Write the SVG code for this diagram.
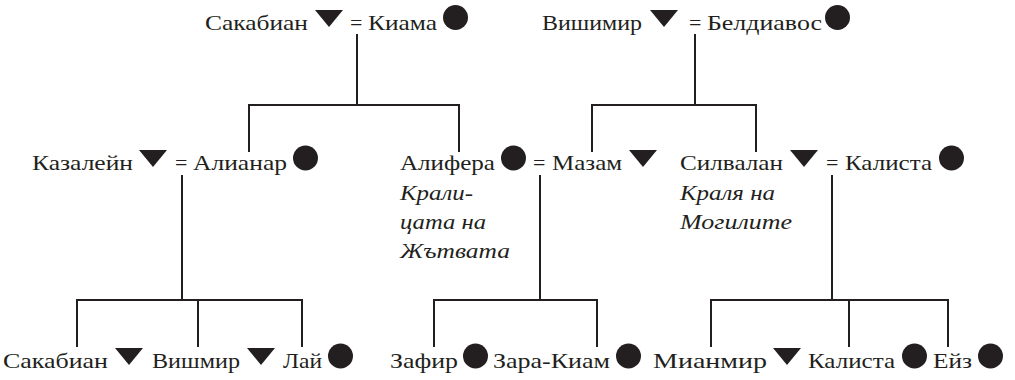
<svg xmlns="http://www.w3.org/2000/svg" xmlns:xlink="http://www.w3.org/1999/xlink" width="1015" height="380" viewBox="0 0 1015 380">
<style>
.n{font-family:"Liberation Serif","Times New Roman",serif;font-size:22px;fill:#231f20}
.i{font-family:"Liberation Serif","Times New Roman",serif;font-size:22px;font-style:italic;fill:#231f20}
.d{fill:#231f20}
.c{stroke:#231f20;stroke-width:2;fill:none}
</style>
<defs>
<path id="tri" d="M0,0 L28,0 L14,17 Z" fill="#231f20"/>
</defs>
<rect width="1015" height="380" fill="#fff"/>
<g id="connectors" class="c">
<path d="M357,34 V105 M249,152 V105 H459 V152"/>
<path d="M695,34 V105 M592,152 V105 H756 V152"/>
<path d="M182,175 V300 M77,347 V300 H302 V347 M198,300 V347"/>
<path d="M540,175 V300 M434,347 V300 H597 V347"/>
<path d="M832,175 V300 M711,347 V300 H948 V347 M849,300 V347"/>
</g>
<g id="sakabian1"><text class="n" x="205" y="30" textLength="103" lengthAdjust="spacingAndGlyphs">Сакабиан</text><use xlink:href="#tri" x="315" y="10"/></g>
<g id="eq1"><text class="n" x="350" y="30">=</text></g>
<g id="kiama"><text class="n" x="368" y="30" textLength="69" lengthAdjust="spacingAndGlyphs">Киама</text><circle class="d" cx="455.5" cy="17.5" r="12.5"/></g>
<g id="vishimir"><text class="n" x="542" y="30" textLength="100" lengthAdjust="spacingAndGlyphs">Вишимир</text><use xlink:href="#tri" x="650" y="10"/></g>
<g id="eq2"><text class="n" x="689" y="30">=</text></g>
<g id="beldiavos"><text class="n" x="707" y="30" textLength="115" lengthAdjust="spacingAndGlyphs">Белдиавос</text><circle class="d" cx="837.5" cy="17.5" r="12.5"/></g>
<g id="kazaleyn"><text class="n" x="32" y="170" textLength="101" lengthAdjust="spacingAndGlyphs">Казалейн</text><use xlink:href="#tri" x="139" y="150"/></g>
<g id="eq3"><text class="n" x="175" y="170">=</text></g>
<g id="alianar"><text class="n" x="193" y="170" textLength="94" lengthAdjust="spacingAndGlyphs">Алианар</text><circle class="d" cx="305.5" cy="158" r="12.5"/></g>
<g id="alifera"><text class="n" x="400" y="170" textLength="95" lengthAdjust="spacingAndGlyphs">Алифера</text><circle class="d" cx="513.5" cy="158" r="12.5"/>
<text class="i" x="400" y="200" textLength="73" lengthAdjust="spacingAndGlyphs">Крали-</text>
<text class="i" x="400" y="229" textLength="86" lengthAdjust="spacingAndGlyphs">цата на</text>
<text class="i" x="400" y="258" textLength="110" lengthAdjust="spacingAndGlyphs">Жътвата</text></g>
<g id="eq4"><text class="n" x="533" y="170">=</text></g>
<g id="mazam"><text class="n" x="552" y="170" textLength="70" lengthAdjust="spacingAndGlyphs">Мазам</text><use xlink:href="#tri" x="629" y="150"/></g>
<g id="silvalan"><text class="n" x="680" y="170" textLength="103" lengthAdjust="spacingAndGlyphs">Силвалан</text><use xlink:href="#tri" x="790" y="150"/>
<text class="i" x="680" y="200" textLength="95" lengthAdjust="spacingAndGlyphs">Краля на</text>
<text class="i" x="680" y="229" textLength="112" lengthAdjust="spacingAndGlyphs">Могилите</text></g>
<g id="eq5"><text class="n" x="826" y="170">=</text></g>
<g id="kalista1"><text class="n" x="845" y="170" textLength="87" lengthAdjust="spacingAndGlyphs">Калиста</text><circle class="d" cx="951.5" cy="158" r="12.5"/></g>
<g id="sakabian2"><text class="n" x="3" y="368" textLength="105" lengthAdjust="spacingAndGlyphs">Сакабиан</text><use xlink:href="#tri" x="115" y="348"/></g>
<g id="vishmir"><text class="n" x="152" y="368" textLength="88" lengthAdjust="spacingAndGlyphs">Вишмир</text><use xlink:href="#tri" x="247" y="348"/></g>
<g id="lay"><text class="n" x="283" y="368" textLength="39" lengthAdjust="spacingAndGlyphs">Лай</text><circle class="d" cx="340.5" cy="356" r="12.5"/></g>
<g id="zafir"><text class="n" x="390" y="368" textLength="68" lengthAdjust="spacingAndGlyphs">Зафир</text><circle class="d" cx="475.5" cy="356" r="12.5"/></g>
<g id="zara-kiam"><text class="n" x="493" y="368" textLength="117" lengthAdjust="spacingAndGlyphs">Зара-Киам</text><circle class="d" cx="628.5" cy="356" r="12.5"/></g>
<g id="mianmir"><text class="n" x="653" y="368" textLength="114" lengthAdjust="spacingAndGlyphs">Мианмир</text><use xlink:href="#tri" x="773" y="348"/></g>
<g id="kalista2"><text class="n" x="808" y="368" textLength="87" lengthAdjust="spacingAndGlyphs">Калиста</text><circle class="d" cx="914.5" cy="356" r="12.5"/></g>
<g id="eyz"><text class="n" x="933" y="368" textLength="39" lengthAdjust="spacingAndGlyphs">Ейз</text><circle class="d" cx="990.5" cy="356" r="12.5"/></g>
</svg>
